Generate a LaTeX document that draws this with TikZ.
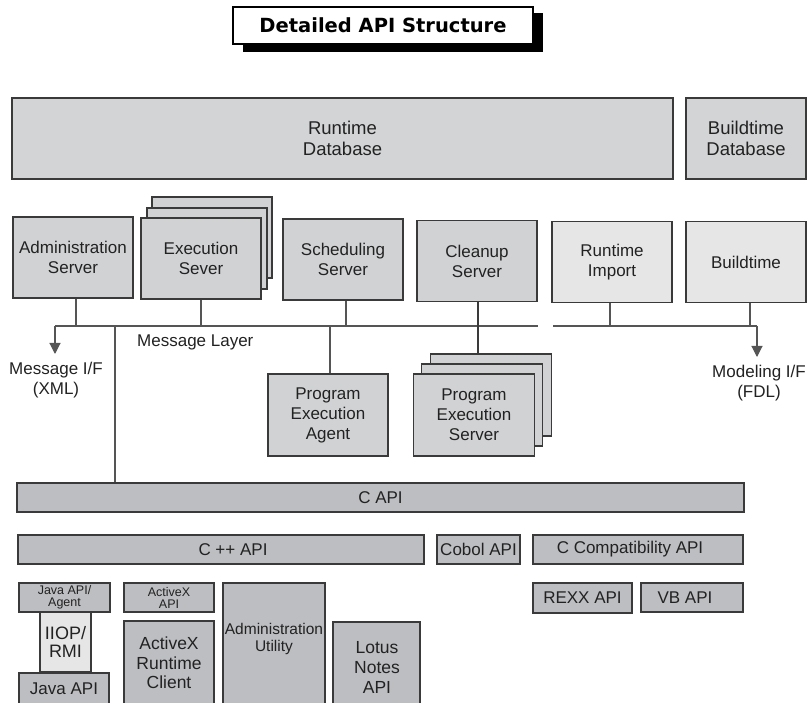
\documentclass[tikz,border=0pt]{standalone}
\usepackage{fontspec}
\setmainfont{Liberation Sans}
\newfontfamily\headfont{DejaVu Sans}
\usetikzlibrary{arrows.meta}

\definecolor{boxline}{HTML}{3A3A3A}
\definecolor{srvfill}{HTML}{D1D2D4}
\definecolor{dbfill}{HTML}{D3D4D6}
\definecolor{litefill}{HTML}{E6E6E7}
\definecolor{apifill}{HTML}{BDBEC1}
\definecolor{wire}{HTML}{555555}
\definecolor{ink}{HTML}{222222}

\tikzset{
  box/.style={draw=boxline, line width=1.1pt, inner sep=0pt, align=center,
    text=ink, font=\fontsize{17}{20}\selectfont},
  srv/.style={box, fill=srvfill, minimum width=120, minimum height=81},
  litesrv/.style={srv, fill=litefill},
  dbbox/.style={box, fill=dbfill, minimum height=81,
    font=\fontsize{18.5}{21.5}\selectfont},
  apibox/.style={box, fill=apifill},
  smallapi/.style={apibox, minimum width=90, minimum height=29,
    font=\fontsize{12.5}{12}\selectfont},
  wirestyle/.style={draw=wire, line width=1.1pt},
  tipstyle/.style={wirestyle, -{Triangle[width=11pt,length=11pt]}},
  lbl/.style={inner sep=0pt, align=center, text=ink, font=\fontsize{17}{20}\selectfont}
}

\begin{document}
\begin{tikzpicture}[x=1pt,y=-1pt]
\useasboundingbox (0,0) rectangle (807,703);
\clip (0,0) rectangle (807,703);

% heading with drop shadow
\node[fill=black, inner sep=0pt, minimum width=300, minimum height=39] (titleshadow) at (393,32.5) {};
\node[draw=black, fill=white, line width=1.5pt, inner sep=0pt, minimum width=300, minimum height=37,
      font=\headfont\bfseries\fontsize{19.5}{22}\selectfont] (title) at (383,25.5) {Detailed API Structure};

% databases
\node[dbbox, minimum width=661] (rtdb) at (342.5,138.5) {Runtime\\Database};
\node[dbbox, minimum width=120] (btdb) at (746,138.5) {Buildtime\\Database};

% server row
\node[srv] (adm) at (73,257.5) {Administration\\Server};
\node[srv] (exe3) at (212,237.5) {};
\node[srv] (exe2) at (207,248.5) {};
\node[srv] (exe) at (201,258.5) {Execution\\Sever};
\node[srv] (sch) at (343,259.5) {Scheduling\\Server};
\node[srv] (cln) at (477,261) {Cleanup\\Server};
\node[litesrv] (rti) at (612,262) {Runtime\\Import};
\node[litesrv] (bld) at (746,262) {Buildtime};

% message layer bus
\coordinate (busL) at (55,326);
\coordinate (busM) at (538,326);
\coordinate (busR0) at (553,326);
\coordinate (busR) at (757,326);
\coordinate (xmlTip) at (55,354);
\coordinate (fdlTip) at (757,357);
\coordinate (tapC) at (115,326);

\draw[wirestyle] (busL) -- (busM);
\draw[wirestyle] (busR0) -- (busR);
\draw[tipstyle] (busL) -- (xmlTip);
\draw[tipstyle] (busR) -- (fdlTip);

\draw[wirestyle] ([xshift=3]adm.south) -- ([xshift=3]adm.south |- busL);
\draw[wirestyle] (exe.south) -- (exe.south |- busL);
\draw[wirestyle] ([xshift=3]sch.south) -- ([xshift=3]sch.south |- busL);
\draw[wirestyle] ([xshift=-2]rti.south) -- ([xshift=-2]rti.south |- busL);
\draw[wirestyle] ([xshift=4]bld.south) -- ([xshift=4]bld.south |- busL);

\node[lbl, anchor=west] (msglayer) at (137,342) {Message Layer};
\node[lbl] (msgif) at (56,380) {Message I/F\\(XML)};
\node[lbl] (modif) at (759,383) {Modeling I/F\\(FDL)};

% program execution
\node[srv, minimum height=82] (pea) at (328,415) {Program\\Execution\\Agent};
\node[srv, minimum width=121, minimum height=82] (pes3) at (491,395) {};
\node[srv, minimum width=121, minimum height=82] (pes2) at (482,405) {};
\node[srv, minimum width=121, minimum height=82] (pes) at (474,415) {Program\\Execution\\Server};

\draw[wirestyle] ([xshift=2]pea.north) -- ([xshift=2]pea.north |- busL);
\draw[wirestyle, draw=boxline] ([xshift=1]cln.south) -- ([xshift=1]cln.south |- pes3.north);

% API layers
\node[apibox, minimum width=727, minimum height=29] (capi) at (380.5,497.5) {C API};
\draw[wirestyle] (tapC) -- (tapC |- capi.north);

\node[apibox, minimum width=406, minimum height=29] (cppapi) at (221,549.5) {\hspace*{24pt}C ++ API};
\node[apibox, minimum width=83, minimum height=29] (cobol) at (478.5,549.5) {Cobol API};
\node[apibox, minimum width=210, minimum height=29] (ccompat) at (638,549.5) {C Compatibility API\hspace*{16pt}};
\node[apibox, minimum width=99, minimum height=30] (rexx) at (582.5,598) {REXX API};
\node[apibox, minimum width=102, minimum height=29] (vbapi) at (692,597.5) {VB API\hspace*{14pt}};

% client side interfaces
\node[smallapi, minimum width=91] (javaagent) at (64.5,597.5) {Java API/\\Agent};
\node[box, fill=litefill, minimum width=51, minimum height=60,
      font=\fontsize{18}{18}\selectfont] (iiop) at (65.5,642) {IIOP/\\RMI};
\node[apibox, minimum width=90, minimum height=32] (javaapi) at (64,689) {Java API};
\node[smallapi] (activexapi) at (169,597.5) {ActiveX\\API};
\node[apibox, minimum width=90, minimum height=84,
      font=\fontsize{17.5}{19.5}\selectfont] (activexrc) at (169,663) {ActiveX\\Runtime\\Client};
\node[apibox, minimum width=102, minimum height=122] (admutil) at (274,644) {};
\node[lbl, font=\fontsize{15.5}{17}\selectfont] (admutiltext) at (274,638.5) {Administration\\Utility};
\node[apibox, minimum width=87, minimum height=83] (lotus) at (376.5,663.5) {};
\node[lbl, font=\fontsize{17.5}{20}\selectfont] (lotustext) at (377,667) {Lotus\\Notes\\API};
\end{tikzpicture}
\end{document}
